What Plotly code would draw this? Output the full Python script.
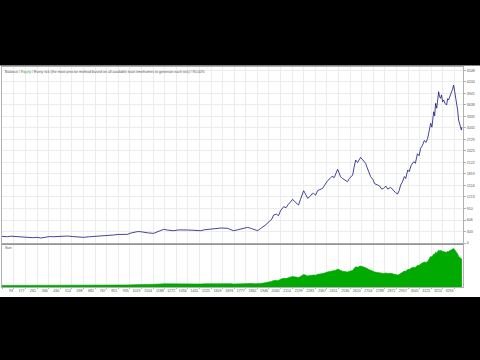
import plotly.graph_objects as go

# ---------------- data ----------------
trade_idx = [0, 11, 30, 47, 70, 95, 120, 150, 193, 230, 260, 287, 320, 350, 381, 420, 450, 483,
             520, 560, 599, 640, 680, 723, 760, 790, 817, 850, 890, 919, 940, 963, 990, 1013,
             1040, 1070, 1108, 1140, 1160, 1181, 1210, 1253, 1290, 1320, 1355, 1400, 1449, 1480,
             1522, 1560, 1600, 1645, 1670, 1689, 1715, 1740, 1765, 1791, 1820, 1845, 1863, 1885,
             1907, 1930, 1950, 1965, 1980, 2000, 2015, 2030, 2053, 2070, 2085, 2100, 2118, 2130,
             2145, 2161, 2175, 2185, 2198, 2210, 2227, 2245, 2258, 2270, 2285, 2300, 2320, 2336,
             2350, 2372, 2390, 2405, 2420, 2433, 2445, 2455, 2466, 2480, 2495, 2517, 2530, 2545,
             2554, 2565, 2576, 2590, 2600, 2612, 2625, 2637, 2648, 2660, 2672, 2685, 2700, 2715,
             2736, 2750, 2765, 2779, 2795, 2810, 2830, 2850, 2865, 2881, 2892, 2903, 2915, 2930,
             2940, 2954, 2965, 2980, 2998, 3010, 3025, 3037, 3048, 3060, 3075, 3087, 3099, 3110,
             3121, 3130, 3143, 3150, 3157, 3165, 3172, 3179, 3186, 3193, 3200, 3208, 3215, 3225,
             3237, 3244, 3251, 3262, 3273, 3280, 3288, 3295, 3302, 3310, 3317, 3324, 3331, 3338,
             3344, 3348]

balance = [175, 171, 160, 166, 180, 172, 184, 165, 150, 140, 150, 132, 150, 170, 166, 178, 190, 184,
           170, 160, 150, 165, 172, 176, 195, 200, 211, 225, 218, 229, 260, 282, 300, 298,
           280, 265, 255, 300, 340, 361, 340, 324, 345, 350, 342, 335, 324, 350,
           369, 390, 395, 387, 360, 324, 345, 361, 395, 413, 380, 345, 324, 380,
           429, 500, 580, 620, 737, 760, 720, 850, 956, 930, 1010, 1080, 1151, 1100,
           1060, 1001, 1150, 1280, 1377, 1300, 1177, 1230, 1290, 1309, 1260, 1380, 1420, 1440,
           1520, 1640, 1700, 1760, 1720, 1820, 1940, 1850, 1746, 1700, 1660, 1614, 1700, 1760,
           1790, 2000, 2185, 2120, 2200, 2257, 2200, 2150, 2099, 1980, 1850, 1746, 1680, 1560,
           1527, 1500, 1420, 1440, 1500, 1420, 1467, 1380, 1330, 1290, 1380, 1527, 1600, 1750,
           1700, 1922, 1880, 2050, 2141, 2100, 2350, 2300, 2494, 2560, 2700, 2650, 2757, 2950,
           3152, 3050, 3457, 3350, 3678, 3550, 3897, 3984, 3850, 3810, 3900, 3720, 3765, 3680,
           3634, 3800, 3765, 3900, 3984, 4050, 4160, 4000, 3852, 3650, 3502, 3239, 3150, 3020,
           2975, 3050]

lot_size = [0.16, 0.16, 0.15, 0.15, 0.16, 0.16, 0.17, 0.16, 0.14, 0.13, 0.14, 0.13, 0.14, 0.15, 0.15, 0.16, 0.17, 0.17,
            0.16, 0.15, 0.14, 0.15, 0.16, 0.16, 0.18, 0.18, 0.19, 0.20, 0.20, 0.21, 0.23, 0.25, 0.27, 0.27,
            0.26, 0.25, 0.24, 0.27, 0.30, 0.32, 0.31, 0.30, 0.31, 0.32, 0.31, 0.31, 0.30, 0.32,
            0.33, 0.35, 0.36, 0.35, 0.33, 0.30, 0.31, 0.33, 0.36, 0.38, 0.35, 0.32, 0.30, 0.34,
            0.39, 0.45, 0.52, 0.56, 0.66, 0.69, 0.66, 0.77, 0.87, 0.85, 0.92, 0.99, 1.06, 1.02,
            0.98, 0.95, 1.05, 1.16, 1.25, 1.20, 1.10, 1.14, 1.19, 1.20, 1.17, 1.27, 1.31, 1.33,
            1.40, 1.51, 1.57, 1.62, 1.60, 1.68, 1.79, 1.72, 1.63, 1.58, 1.55, 1.50, 1.57, 1.63,
            1.66, 1.85, 2.02, 1.97, 2.04, 2.09, 2.04, 2.00, 1.95, 1.86, 1.75, 1.66, 1.60, 1.50,
            1.45, 1.42, 1.36, 1.36, 1.40, 1.35, 1.37, 1.30, 1.25, 1.20, 1.26, 1.38, 1.46, 1.60,
            1.58, 1.76, 1.74, 1.90, 1.98, 1.96, 2.18, 2.14, 2.31, 2.37, 2.50, 2.46, 2.56, 2.80,
            3.05, 3.00, 3.30, 3.25, 3.48, 3.40, 3.60, 3.68, 3.62, 3.60, 3.65, 3.52, 3.55, 3.50,
            3.48, 3.58, 3.56, 3.65, 3.72, 3.78, 3.85, 3.74, 3.62, 3.44, 3.30, 3.08, 2.98, 2.86,
            2.80, 2.84]

x_tick_labels = ["8", "93", "177", "261", "346", "430", "514", "598", "682", "767", "851", "935",
                 "1019", "1104", "1188", "1272", "1356", "1441", "1525", "1609", "1693", "1777",
                 "1862", "1946", "2030", "2114", "2199", "2283", "2367", "2451", "2536", "2620",
                 "2704", "2788", "2872", "2957", "3041", "3125", "3210", "3294"]
y_tick_labels = ["0", "303", "606", "910", "1213", "1516", "1819", "2122", "2425", "2729",
                 "3032", "3335", "3638", "3941", "4244", "4548"]

title_text = ('Balance / <span style="color:#3f9f3f">Equity</span> / Every tick (the most precise method '
              'based on all available least timeframes to generate each tick) / 90.00%')
panel_label = "Size"

# ---------------- figure ----------------
W, H = 480, 360
ML, MR, MT, MB = 2, 17, 67, 73
PW, PH = W - ML - MR, H - MT - MB


def px_x(p):
    return (p - ML) / PW


def px_y(p):
    return (H - MB - p) / PH


x_vals = [int(v) for v in x_tick_labels]
y_vals = [int(v) for v in y_tick_labels]

fig = go.Figure()
fig.add_trace(go.Scatter(x=trade_idx, y=balance, mode="lines",
                         line=dict(color="#141480", width=0.8), xaxis="x", yaxis="y",
                         hoverinfo="skip", showlegend=False))
fig.add_trace(go.Scatter(x=trade_idx, y=lot_size, mode="lines", fill="tozeroy",
                         fillcolor="#00aa00", line=dict(color="#00a000", width=0.6),
                         xaxis="x2", yaxis="y2", hoverinfo="skip", showlegend=False))

grid = "#ececec"
frame = "#b0b0b0"
tickfont = dict(family="Liberation Sans", size=3.6, color="#555555")

fig.update_layout(
    width=W, height=H,
    margin=dict(l=ML, r=MR, t=MT, b=MB, pad=0),
    paper_bgcolor="black", plot_bgcolor="white",
    showlegend=False,
    xaxis=dict(domain=[0, 1], anchor="y", range=[6, 3356], tickvals=x_vals,
               showticklabels=False, showgrid=True, gridcolor=grid, gridwidth=1,
               zeroline=False, showline=True, mirror=True, linecolor=frame, linewidth=1,
               ticks=""),
    yaxis=dict(domain=[px_y(244), 1], anchor="x", side="right", range=[-26, 4635],
               tickvals=y_vals, ticktext=y_tick_labels, tickfont=tickfont,
               showgrid=True, gridcolor=grid, gridwidth=1, zeroline=False,
               showline=True, mirror=True, linecolor=frame, linewidth=1,
               ticks="outside", ticklen=2, tickcolor=frame),
    xaxis2=dict(domain=[0, 1], anchor="y2", matches="x", range=[6, 3356], tickvals=x_vals,
                ticktext=x_tick_labels, tickfont=tickfont, ticklabelposition="outside left",
                tickangle=0,
                showgrid=True, gridcolor=grid, gridwidth=1, zeroline=False,
                showline=True, mirror=True, linecolor=frame, linewidth=1,
                ticks="outside", ticklen=1, tickcolor=frame),
    yaxis2=dict(domain=[0, px_y(245)], anchor="x2", side="right", range=[0, 4.2],
                showticklabels=False, showgrid=False, zeroline=False,
                showline=True, mirror=True, linecolor=frame, linewidth=1, ticks=""),
    shapes=[
        dict(type="rect", xref="paper", yref="paper", layer="below",
             x0=px_x(0), x1=px_x(W), y0=px_y(297), y1=px_y(65.5),
             fillcolor="white", line=dict(width=0)),
        dict(type="line", xref="paper", yref="paper", layer="above",
             x0=0, x1=1, y0=px_y(244), y1=px_y(244),
             line=dict(color="#8c8c8c", width=1.5)),
    ],
    annotations=[
        dict(text=title_text, xref="paper", yref="paper", x=px_x(3), y=px_y(72),
             xanchor="left", yanchor="middle", showarrow=False,
             font=dict(family="Liberation Sans", size=3.6, color="#555555")),
        dict(text=panel_label, xref="paper", yref="paper", x=px_x(3), y=px_y(247.5),
             xanchor="left", yanchor="middle", showarrow=False,
             font=dict(family="Liberation Sans", size=3.4, color="#555555")),
    ],
)

fig.write_html("out.html")
